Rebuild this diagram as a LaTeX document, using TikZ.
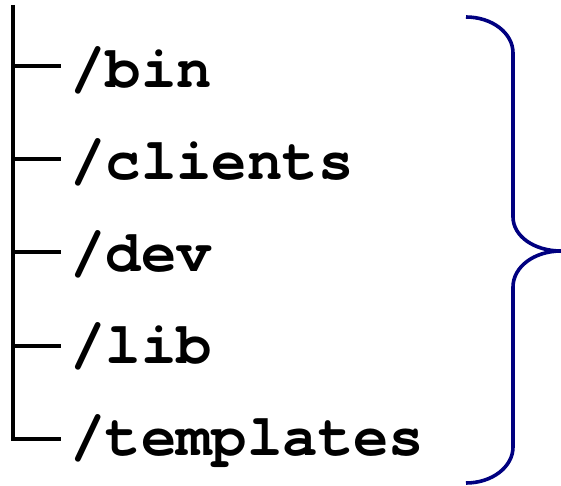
\documentclass[tikz,border=0pt]{standalone}
\usepackage{fontspec}
\setmonofont{texgyrecursor}[Extension=.otf,UprightFont=*-regular,BoldFont=*-bold]
\begin{document}
\begin{tikzpicture}[x=1pt,y=-1pt,
  tree/.style={line width=3.6pt,black},
  dirname/.style={anchor=base west,inner sep=0pt,font=\fontsize{59}{62}\selectfont\ttfamily\bfseries},
  brace/.style={line width=3.6pt,draw={rgb,255:red,0;green,0;blue,128}}]
\useasboundingbox (0,0) rectangle (561,486);
% trunk of the directory tree
\coordinate (top) at (13,5);
\coordinate (t1) at (13,66);
\coordinate (t2) at (13,159);
\coordinate (t3) at (13,252);
\coordinate (t4) at (13,346);
\coordinate (t5) at (13,439);
\draw[tree] (top) -- (t5) -- ++(48,0);
\foreach \k in {1,...,4} \draw[tree] (t\k) -- ++(48,0);
% directory names
\node[dirname] (n1) at (70,88) {/bin};
\node[dirname] (n2) at (70,180) {/clients};
\node[dirname] (n3) at (70,271) {/dev};
\node[dirname] (n4) at (70,363) {/lib};
\node[dirname] (n5) at (70,455) {/templates};
% closing brace
\draw[brace] (466,17) .. controls (492,17) and (513,33) .. (513,53)
  -- (513,217) .. controls (513,236) and (534,251) .. (561,251)
  .. controls (534,251) and (513,267) .. (513,287)
  -- (513,447) .. controls (513,467) and (492,483) .. (466,483);
\end{tikzpicture}
\end{document}
